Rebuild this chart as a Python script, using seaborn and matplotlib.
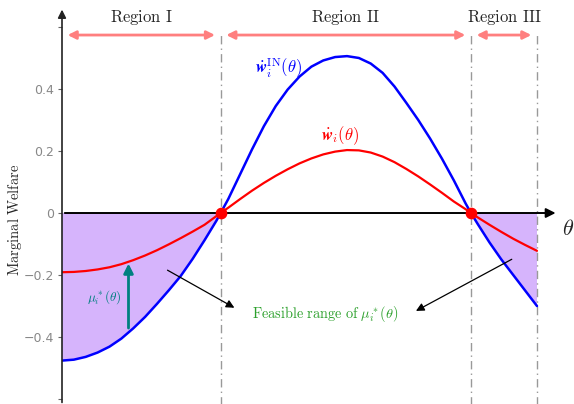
import numpy as np
import matplotlib
matplotlib.use("Agg")
import matplotlib.pyplot as plt
import seaborn as sns

# Values
theta = [0.000, 0.025, 0.050, 0.075, 0.100, 0.125, 0.150, 0.175, 0.200, 0.225, 0.250,
         0.275, 0.300, 0.325, 0.334, 0.350, 0.375, 0.400, 0.425, 0.450, 0.475, 0.500,
         0.525, 0.550, 0.575, 0.600, 0.625, 0.650, 0.675, 0.700, 0.725, 0.750, 0.775,
         0.800, 0.825, 0.850, 0.861, 0.875, 0.900, 0.925, 0.950, 0.975, 1.000]
w_in = [-0.476, -0.473, -0.464, -0.450, -0.431, -0.405, -0.372, -0.335, -0.293, -0.249, -0.203,
        -0.148, -0.088, -0.025, 0.0, 0.045, 0.125, 0.205, 0.280, 0.345, 0.398, 0.440,
        0.472, 0.492, 0.503, 0.506, 0.500, 0.482, 0.452, 0.408, 0.355, 0.300, 0.240,
        0.175, 0.105, 0.030, 0.0, -0.035, -0.095, -0.150, -0.200, -0.250, -0.300]
w_eq = [-0.191, -0.190, -0.187, -0.182, -0.175, -0.165, -0.152, -0.137, -0.120, -0.101, -0.081,
        -0.060, -0.038, -0.010, 0.0, 0.017, 0.045, 0.072, 0.097, 0.120, 0.141, 0.160,
        0.176, 0.189, 0.198, 0.203, 0.202, 0.195, 0.182, 0.164, 0.142, 0.118, 0.092,
        0.065, 0.037, 0.012, 0.0, -0.014, -0.038, -0.061, -0.083, -0.103, -0.122]
zeros = [0.334, 0.861]
region_names = ["Region I", "Region II", "Region III"]
region_bounds = [(0.0, 0.334), (0.334, 0.861), (0.861, 1.0)]
yticks = [-0.6, -0.4, -0.2, 0.0, 0.2, 0.4, 0.6]
ytick_labels = ["", "\u22120.4", "\u22120.2", "0", "0.2", "0.4", ""]
mu_theta = 0.14

sns.set_style("white")
plt.rcParams["mathtext.fontset"] = "cm"

fig = plt.figure(figsize=(5.74, 4.04), dpi=100)
ax = fig.add_axes([62 / 574, 0, 503.5 / 574, 1])
ax.set_xlim(0, 1.06)
ax.set_ylim(-0.616, 0.687)

th = np.array(theta)
b = np.array(w_in)
r = np.array(w_eq)

# shaded feasible region
ax.fill_between(th, b, 0, where=b <= 0, interpolate=True, color="#d6b4fc", lw=0, zorder=1)

# vertical dash-dot lines
for xv in zeros + [1.0]:
    ax.plot([xv, xv], [-0.62, 0.585], color="#999999", lw=1, ls=(0, (6, 3, 1, 3)), zorder=1)

sns.lineplot(x=th, y=b, color="blue", lw=1.8, ax=ax, zorder=3)
sns.lineplot(x=th, y=r, color="red", lw=1.6, ax=ax, zorder=3)

# axes arrows
ax.annotate("", xy=(1.045, 0), xytext=(0, 0),
            arrowprops=dict(arrowstyle="-|>", color="black", lw=1.4, mutation_scale=14), zorder=2)
ax.annotate("", xy=(0, 0.665), xytext=(0, -0.62),
            arrowprops=dict(arrowstyle="-|>", color="#222222", lw=1.2, mutation_scale=12),
            annotation_clip=False)
ax.text(1.066, -0.05, r"$\theta$", fontsize=16, ha="center", va="center", clip_on=False)

# zero crossing points
ax.scatter(zeros, [0, 0], s=55, color="red", zorder=5)

for sp in ax.spines.values():
    sp.set_visible(False)
ax.set_xticks([])
ax.set_yticks(yticks)
ax.set_yticklabels(ytick_labels, color="#888888", fontsize=9)
ax.tick_params(axis="y", direction="out", length=3, width=0.8, color="#666666", left=True, pad=3)

fig.text(15 / 574, 1 - 220 / 404, r"$\mathrm{Marginal\ Welfare}$", rotation=90,
         ha="center", va="center", fontsize=10.5)

# region arrows and labels
for name, (x0, x1) in zip(region_names, region_bounds):
    ax.annotate("", xy=(x1 - 0.006, 0.574), xytext=(x0 + 0.006, 0.574),
                arrowprops=dict(arrowstyle="<|-|>", color="#ff7f7f", lw=2, mutation_scale=12))
    ax.text((x0 + x1) / 2, 0.632, r"$\mathrm{" + name.replace(" ", r"\ ") + "}$",
            ha="center", va="center", fontsize=12)

# curve labels
ax.text(0.455, 0.468, r"$\dot{\boldsymbol{w}}_i^{\rm IN}(\theta)$", color="blue",
        fontsize=12, ha="center", va="center")
ax.text(0.585, 0.25, r"$\dot{\boldsymbol{w}}_i(\theta)$", color="red",
        fontsize=12, ha="center", va="center")

# mu arrow between the curves
i = theta.index(0.150)
ax.annotate("", xy=(mu_theta, w_eq[i] - 0.002), xytext=(mu_theta, w_in[i] - 0.008),
            arrowprops=dict(arrowstyle="-|>", color="teal", lw=2, mutation_scale=14))
ax.text(0.09, -0.27, r"$\mu^*_i(\theta)$", color="teal", fontsize=9.5,
        ha="center", va="center")

# feasible range annotation
ax.text(0.555, -0.325, r"$\mathrm{Feasible\ range\ of}\ \mu^*_i(\theta)$",
        color="#2ca02c", fontsize=10.3, ha="center", va="center")
ax.annotate("", xy=(0.368, -0.31), xytext=(0.217, -0.18),
            arrowprops=dict(arrowstyle="-|>", color="black", lw=0.9, mutation_scale=12))
ax.annotate("", xy=(0.74, -0.32), xytext=(0.952, -0.145),
            arrowprops=dict(arrowstyle="-|>", color="black", lw=0.9, mutation_scale=12))

fig.savefig("out.png", dpi=100)
